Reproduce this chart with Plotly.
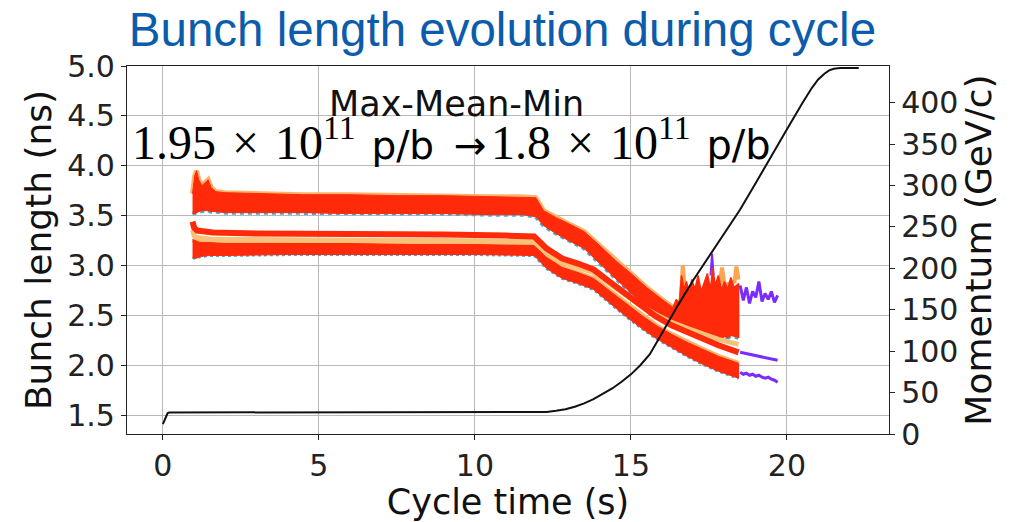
import plotly.graph_objects as go

# ---------------- data ----------------
# Max band (upper envelope of bunch lengths)
t_max = [0.95, 1.02, 1.08, 1.15, 1.25, 1.35, 1.45, 1.55, 1.7, 2.0, 3.0, 4.5, 6.0, 7.5, 9.0, 10.5, 11.5, 11.95,
         12.2, 12.6, 13.0, 13.5, 14.0, 14.5, 15.0, 15.5, 16.0, 16.35]
max_top = [3.72, 3.90, 3.95, 3.86, 3.80, 3.83, 3.86, 3.78, 3.74, 3.73, 3.72, 3.71, 3.71, 3.70, 3.70, 3.69, 3.69, 3.68,
           3.55, 3.48, 3.42, 3.34, 3.20, 3.05, 2.92, 2.78, 2.66, 2.58]
max_bot = [3.52, 3.52, 3.53, 3.54, 3.55, 3.55, 3.55, 3.54, 3.54, 3.53, 3.53, 3.53, 3.52, 3.52, 3.52, 3.51, 3.51, 3.49,
           3.40, 3.32, 3.25, 3.17, 3.02, 2.87, 2.72, 2.58, 2.46, 2.40]

# Noisy part of the max band near the end of the ramp
t_noise = [16.35, 16.45, 16.55, 16.62, 16.7, 16.78, 16.86, 16.95, 17.05, 17.15, 17.25, 17.35, 17.45, 17.55,
           17.62, 17.7, 17.8, 17.9, 18.0, 18.1, 18.2, 18.3, 18.45]
noise_top = [2.58, 2.66, 2.62, 2.90, 2.76, 2.84, 2.72, 2.86, 2.76, 2.90, 2.74, 2.82, 2.92, 2.76,
             2.98, 2.80, 2.90, 2.76, 2.84, 2.76, 2.88, 2.78, 2.82]
noise_bot = [2.40, 2.38, 2.37, 2.36, 2.35, 2.34, 2.33, 2.34, 2.31, 2.32, 2.30, 2.31, 2.29, 2.30,
             2.28, 2.30, 2.29, 2.27, 2.29, 2.28, 2.30, 2.29, 2.28]
t_peak = [16.40, 16.60, 16.66, 16.74, 17.2, 17.5, 17.85, 17.92, 18.0, 18.32, 18.38, 18.45]
peak_v = [2.55, 2.66, 3.00, 2.72, 2.70, 2.78, 2.82, 2.98, 2.80, 2.84, 2.99, 2.86]
t_spike = [17.55, 17.6, 17.65]
spike_v = [2.90, 3.12, 2.90]

# Mean lines
t_mean = [0.95, 1.0, 1.1, 1.3, 1.6, 3.0, 5.0, 7.0, 9.0, 11.0, 11.9, 12.3, 12.8, 13.3, 13.8, 14.3, 14.8,
          15.3, 15.8, 16.3, 16.8, 17.3, 17.8, 18.45]
mean_v = [3.44, 3.38, 3.35, 3.34, 3.33, 3.32, 3.32, 3.31, 3.31, 3.30, 3.29, 3.17, 3.07, 3.02, 2.96, 2.84, 2.72,
          2.60, 2.49, 2.40, 2.33, 2.26, 2.20, 2.13]
mean_alt = [3.36, 3.30, 3.28, 3.27, 3.26, 3.26, 3.25, 3.25, 3.25, 3.25, 3.24, 3.12, 3.03, 2.98, 2.93, 2.82, 2.71,
            2.60, 2.51, 2.43, 2.37, 2.31, 2.26, 2.21]

# Min band
t_min = [0.95, 1.05, 1.2, 1.5, 2.0, 4.0, 6.0, 8.0, 10.0, 11.9, 12.3, 12.8, 13.3, 13.8, 14.3, 14.8, 15.3,
         15.8, 16.3, 16.8, 17.3, 17.8, 18.45]
min_top = [3.26, 3.25, 3.23, 3.23, 3.22, 3.22, 3.22, 3.21, 3.21, 3.20, 3.08, 2.98, 2.93, 2.87, 2.75, 2.63, 2.51,
           2.40, 2.31, 2.23, 2.16, 2.09, 2.02]
min_bot = [3.08, 3.07, 3.09, 3.10, 3.10, 3.11, 3.11, 3.11, 3.11, 3.10, 2.97, 2.87, 2.82, 2.76, 2.63, 2.50, 2.38,
           2.27, 2.18, 2.09, 2.01, 1.94, 1.87]

# Last bunch (purple) that survives longer
t_p = [18.5, 18.6, 18.7, 18.8, 18.9, 19.0, 19.1, 19.2, 19.3, 19.4, 19.5, 19.6, 19.7]
pmax_v = [2.80, 2.65, 2.78, 2.62, 2.74, 2.68, 2.84, 2.64, 2.72, 2.66, 2.74, 2.63, 2.70]
pmin_v = [1.93, 1.91, 1.92, 1.90, 1.91, 1.89, 1.90, 1.88, 1.87, 1.88, 1.86, 1.85, 1.83]
t_pmean = [18.5, 18.8, 19.1, 19.4, 19.7]
pmean_v = [2.13, 2.11, 2.09, 2.07, 2.05]

# Momentum programme (GeV/c)
t_mom = [0.0, 0.05, 0.1, 0.15, 0.2, 12.0, 12.3, 12.6, 12.9, 13.2, 13.5, 13.8, 14.1, 14.4, 14.7,
         15.0, 15.3, 15.6, 16.0, 16.5, 17.0, 17.5, 18.0, 18.5, 19.0, 19.5, 20.0, 20.5, 20.8, 21.0,
         21.2, 21.35, 21.5, 21.7, 22.3]
p_mom = [12, 17, 22, 25, 26, 26, 26.5, 28, 30, 33, 37, 42, 48, 55, 63,
         72, 83, 96, 122, 155, 186, 214, 242, 271, 303, 336, 368, 400, 418, 428,
         435, 439, 441, 442, 442]

x_ticks = [0, 5, 10, 15, 20]
y_ticks = [1.5, 2.0, 2.5, 3.0, 3.5, 4.0, 4.5, 5.0]
y2_ticks = [0, 50, 100, 150, 200, 250, 300, 350, 400]

RED = '#ff2a0a'
ORANGE = '#ffa552'
FRINGE = '#ffb46e'
CYAN = '#3aaed8'
PURPLE = '#7a2cff'


def band(t, top, bot):
    return list(t) + list(t)[::-1], list(top) + list(bot)[::-1]


fig = go.Figure()

# ---- max band ----
bx, by = band(t_max, max_top, max_bot)
fig.add_trace(go.Scatter(x=t_max, y=max_bot, mode='lines', line=dict(color=CYAN, width=4, dash='dot'),
                         hoverinfo='skip'))
fig.add_trace(go.Scatter(x=t_max, y=max_top, mode='lines', line=dict(color=FRINGE, width=5),
                         hoverinfo='skip'))
fig.add_trace(go.Scatter(x=bx, y=by, fill='toself', fillcolor=RED, mode='lines',
                         line=dict(color=RED, width=1), hoverinfo='skip'))

# ---- noisy region ----
nx, ny = band(t_noise, noise_top, noise_bot)
fig.add_trace(go.Scatter(x=t_noise, y=noise_bot, mode='lines', line=dict(color=CYAN, width=5, dash='dot'),
                         hoverinfo='skip'))
fig.add_trace(go.Scatter(x=t_peak, y=peak_v, mode='lines', line=dict(color=ORANGE, width=4), hoverinfo='skip'))
fig.add_trace(go.Scatter(x=t_spike, y=spike_v, mode='lines', line=dict(color=PURPLE, width=2), hoverinfo='skip'))
fig.add_trace(go.Scatter(x=nx, y=ny, fill='toself', fillcolor=RED, mode='lines',
                         line=dict(color=RED, width=1.5), hoverinfo='skip'))

# ---- min band ----
mx, my = band(t_min, min_top, min_bot)
fig.add_trace(go.Scatter(x=t_min, y=min_top, mode='lines', line=dict(color=FRINGE, width=5),
                         hoverinfo='skip'))
fig.add_trace(go.Scatter(x=t_min, y=min_bot, mode='lines', line=dict(color=CYAN, width=3, dash='dot'),
                         hoverinfo='skip'))
fig.add_trace(go.Scatter(x=mx, y=my, fill='toself', fillcolor=RED, mode='lines',
                         line=dict(color=RED, width=1), hoverinfo='skip'))

# ---- mean lines ----
fig.add_trace(go.Scatter(x=t_mean, y=mean_alt, mode='lines', line=dict(color='#f6c27a', width=5),
                         hoverinfo='skip'))
fig.add_trace(go.Scatter(x=t_mean, y=mean_v, mode='lines', line=dict(color=RED, width=6),
                         hoverinfo='skip'))

# ---- purple bunch ----
fig.add_trace(go.Scatter(x=t_p, y=pmax_v, mode='lines', line=dict(color=PURPLE, width=3), hoverinfo='skip'))
fig.add_trace(go.Scatter(x=t_pmean, y=pmean_v, mode='lines', line=dict(color=PURPLE, width=3), hoverinfo='skip'))
fig.add_trace(go.Scatter(x=t_p, y=pmin_v, mode='lines', line=dict(color=PURPLE, width=3), hoverinfo='skip'))

# ---- momentum on right axis ----
fig.add_trace(go.Scatter(x=t_mom, y=p_mom, mode='lines', yaxis='y2',
                         line=dict(color='#111111', width=2), hoverinfo='skip'))

TICKFONT = dict(family='DejaVu Sans', size=30, color='#222222')
TITLEFONT = dict(family='DejaVu Sans', size=36, color='#111111')

fig.update_layout(
    width=1014, height=522,
    margin=dict(l=127, r=125, t=66, b=85),
    plot_bgcolor='white', paper_bgcolor='white',
    showlegend=False,
    title=dict(text='Bunch length evolution during cycle', x=0.4955, xanchor='center',
               y=0.944, yanchor='middle', yref='container',
               font=dict(family='Liberation Sans', size=47.5, color='#0b5cab')),
    xaxis=dict(range=[-1.15, 23.27], tickvals=x_ticks, ticks='outside', ticklen=5, tickwidth=1.2,
               tickcolor='#222222', showline=True, linecolor='#222222', linewidth=1.3, mirror=True,
               showgrid=True, gridcolor='#b8b8b8', gridwidth=1, zeroline=False, tickfont=TICKFONT,
               title=dict(text='Cycle time (s)', font=dict(family='DejaVu Sans', size=35, color='#111111'),
                          standoff=2)),
    yaxis=dict(range=[1.311, 5.0], tickvals=y_ticks, tickformat='.1f', ticks='outside', ticklen=5,
               tickwidth=1.2, tickcolor='#222222', showline=True, linecolor='#222222', linewidth=1.3,
               mirror=True, showgrid=True, gridcolor='#b8b8b8', gridwidth=1, zeroline=False,
               tickfont=TICKFONT, title=dict(text='Bunch length (ns)', font=TITLEFONT, standoff=4)),
    yaxis2=dict(range=[0, 444.3], tickvals=y2_ticks, overlaying='y', side='right', ticks='outside',
                ticklen=5, tickwidth=1.2, tickcolor='#222222', showline=True, linecolor='#222222',
                linewidth=1.3, showgrid=False, zeroline=False, tickfont=TICKFONT,
                title=dict(text='Momentum (GeV/c)', font=TITLEFONT, standoff=4)),
)

fig.add_annotation(text='Max-Mean-Min', xref='paper', yref='paper', x=0.432, y=0.897,
                   xanchor='center', yanchor='middle', showarrow=False,
                   font=dict(family='DejaVu Sans', size=35, color='#111111'))
fig.add_annotation(text="1.95\u2004×\u200410<sup>11</sup>\u2004"
                        "<span style='font-family:DejaVu Sans;font-size:39px'>p/b\u2002→</span>",
                   xref='paper', yref='paper', x=0.004, y=0.802, xanchor='left', yanchor='middle',
                   showarrow=False, font=dict(family='Liberation Serif', size=48, color='#000000'))
fig.add_annotation(text="1.8\u2004×\u200410<sup>11</sup>\u2004"
                        "<span style='font-family:DejaVu Sans;font-size:40px'>p/b</span>",
                   xref='paper', yref='paper', x=0.475, y=0.802, xanchor='left', yanchor='middle',
                   showarrow=False, font=dict(family='Liberation Serif', size=48, color='#000000'))

fig.write_html('out.html')
